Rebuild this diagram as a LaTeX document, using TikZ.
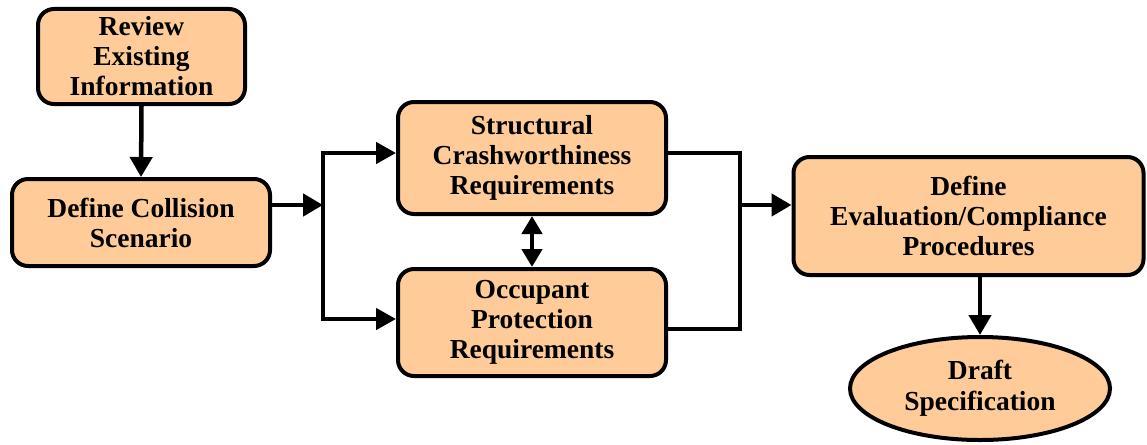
\documentclass[tikz,border=0pt]{standalone}
\usepackage{fontspec}
\setmainfont{Liberation Serif}
\usetikzlibrary{arrows.meta,shapes.geometric}
\definecolor{peach}{RGB}{255,204,153}
\tikzset{
  box/.style={draw, line width=4pt, fill=peach, rounded corners=16pt, align=center,
    font=\fontsize{27.5}{30}\selectfont\bfseries, inner sep=0pt},
  oval/.style={ellipse, draw, line width=4pt, fill=peach, align=center,
    font=\fontsize{27.5}{31}\selectfont\bfseries, inner sep=0pt},
  conn/.style={line width=4.5pt},
  arr/.style={conn, -{Triangle[length=20pt,width=22pt]}},
  dbl/.style={conn, {Triangle[length=18pt,width=20pt]}-{Triangle[length=18pt,width=20pt]}},
  brk/.style={conn, {Triangle[length=20pt,width=21pt]}-{Triangle[length=20pt,width=21pt]}}
}
\begin{document}
\begin{tikzpicture}[x=1pt,y=-1pt]
\useasboundingbox (0,0) rectangle (1147,444);
\node[box, minimum width=207pt, minimum height=95pt] (review) at (141.5,56.5) {Review\\Existing\\Information};
\node[box, minimum width=258pt, minimum height=87pt] (define) at (141,222.5) {Define Collision\\Scenario};
\node[box, minimum width=268pt, minimum height=112pt] (struct) at (532,158) {Structural\\Crashworthiness\\Requirements};
\node[box, minimum width=268pt, minimum height=107pt] (occup) at (532,322.5) {Occupant\\Protection\\Requirements};
\node[box, minimum width=350pt, minimum height=118pt] (eval) at (968.5,216) {Define\\Evaluation/Compliance\\Procedures};
\node[oval, minimum width=260pt, minimum height=103pt] (draft) at (980,388.5) {Draft\\Specification};

\coordinate (jm) at (323,205);
\coordinate (jt) at (323,153);
\coordinate (jb) at (323,319);
\coordinate (rt) at (740,153);
\coordinate (rb) at (740,329);
\coordinate (rm) at (740,205);

\draw[arr] (review.south) -- (define.north);
\draw[arr] (define.east |- jm) -- (jm);
\draw[brk] (struct.west |- jt) -- (jt) -- (jb) -- (occup.west |- jb);
\draw[dbl] (struct.south) -- (occup.north);
\draw[conn] (struct.east |- rt) -- (rt) -- (rb) -- (occup.east |- rb);
\draw[arr] (rm) -- (eval.west |- rm);
\draw[arr] (draft.north |- eval.south) -- (draft.north);
\end{tikzpicture}
\end{document}
